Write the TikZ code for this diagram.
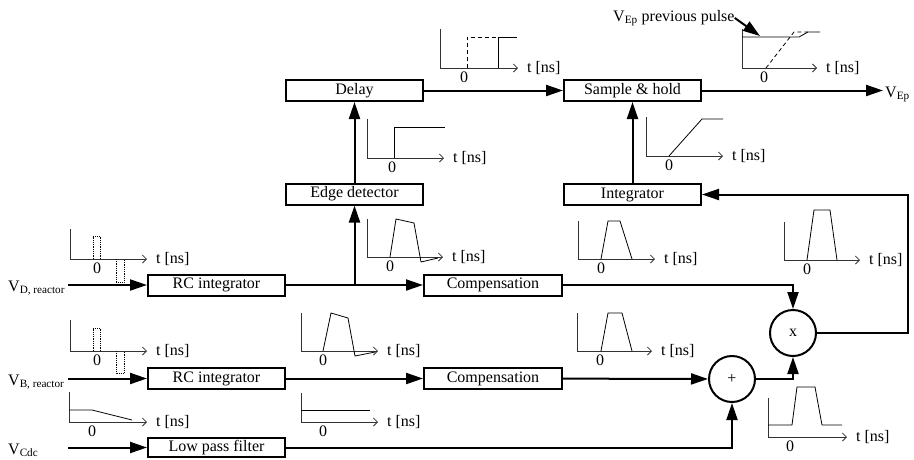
\documentclass[tikz,border=0pt]{standalone}
\usepackage{fontspec}
\setmainfont{Liberation Serif}
\usepackage{tikz}
\usetikzlibrary{arrows.meta, positioning, calc}
\definecolor{mydark}{RGB}{0,0,0}
\definecolor{mygray}{RGB}{50,50,50}
\newcommand{\bigfont}{\fontsize{16}{19}\selectfont}
\tikzset{
  block/.style={rectangle, draw=mydark, line width=2pt, minimum width=137pt,
    minimum height=21pt, inner sep=0pt, font=\bigfont},
  opnode/.style={circle, draw=mydark, line width=2pt, minimum size=46pt,
    inner sep=0pt, font=\bigfont},
  arrow/.style={-{Triangle[length=17pt,width=11pt]}, line width=2pt, color=mydark},
  axis/.style={line width=0.8pt, color=mygray, -{Straight Barb[length=4pt,width=8pt]}},
  sig/.style={line width=0.8pt, color=mydark},
  dotsig/.style={line width=0.8pt, color=mydark, densely dotted},
  dashsig/.style={line width=0.8pt, color=mydark, dash pattern=on 4pt off 3pt},
  zero/.style={anchor=north, inner sep=1pt, yshift=-3pt, font=\bigfont},
  tlab/.style={anchor=west, inner sep=1pt, xshift=8pt, font=\bigfont},
  vlab/.style={anchor=base west, inner sep=0pt, font=\bigfont}
}
\newcommand{\taxis}[6]{%
  \draw[axis] (#2,#3) -- (#2,#4) -- (#5,#4);
  \node[zero] (#1zero) at (#6,#4) {0};
  \node[tlab] (#1t) at (#5,#4) {t [ns]};
}

\begin{document}
\begin{tikzpicture}[x=1pt, y=-1pt]
  \useasboundingbox (0,0) rectangle (914,459);

  \node[block] (delay) at (354.5,90.5) {Delay};
  \node[block] (sh) at (632.5,90.5) {Sample \& hold};
  \node[block] (edge) at (354.5,194) {Edge detector};
  \node[block] (integ) at (632.5,194.5) {Integrator};
  \node[block] (rc1) at (216.5,285) {RC integrator};
  \node[block, minimum width=138pt] (comp1) at (493,285) {Compensation};
  \node[block] (rc2) at (216.5,378.5) {RC integrator};
  \node[block, minimum width=138pt] (comp2) at (493,378.5) {Compensation};
  \node[block, minimum height=19pt] (lpf) at (216.5,447.5) {Low pass filter};
  \node[opnode] (mult) at (793,333) {x};
  \node[opnode] (plus) at (732,379) {+};

  \node[vlab] (vd) at (8,291) {V\textsubscript{D, reactor}};
  \node[vlab] (vb) at (8,385) {V\textsubscript{B, reactor}};
  \node[vlab] (vc) at (8,454) {V\textsubscript{Cdc}};
  \coordinate (inD) at (68,285);
  \coordinate (inB) at (68,378.5);
  \coordinate (inC) at (68,447.5);
  \coordinate (j1) at (354.5,285);
  \coordinate (out) at (883,90.5);
  \coordinate (fb) at (908,333);
  \coordinate (pp) at (760,36);
  \node[vlab, anchor=base west] (vep) at (885,97) {V\textsubscript{Ep}};
  \node[vlab] (prev) at (613,21) {V\textsubscript{Ep} previous pulse};

  \draw[arrow] (inD) -- (rc1);
  \draw[arrow] (inB) -- (rc2);
  \draw[arrow] (inC) -- (lpf);
  \draw[arrow] (rc1) -- (comp1);
  \draw[arrow] (j1) -- (edge);
  \draw[arrow] (edge) -- (delay);
  \draw[arrow] (delay) -- (sh);
  \draw[arrow] (integ) -- (sh);
  \draw[arrow] (sh) -- (out);
  \draw[arrow] (rc2) -- (comp2);
  \draw[arrow] (comp2) -- (plus);
  \draw[arrow] (lpf) -| (plus);
  \draw[arrow] (plus) -| (mult);
  \draw[arrow] (comp1) -| (mult);
  \draw[arrow] (mult) -- (fb) |- (integ);
  \draw[arrow] (prev.east) -- (pp);

  \taxis{ga}{70}{229}{259}{147}{97}
  \draw[dotsig] (93,259) -- (93,236) -- (100,236) -- (100,259);
  \draw[dotsig] (116,259) -- (116,282) -- (124,282) -- (124,259);

  \taxis{gb}{70}{320}{351}{147}{97}
  \draw[dotsig] (93,351) -- (93,328) -- (100,328) -- (100,351);
  \draw[dotsig] (116,351) -- (116,373) -- (124,373) -- (124,351);

  \taxis{gc}{69}{392}{422}{147}{92}
  \draw[sig] (69,410) -- (92,410) -- (132,420);

  \taxis{gd}{301}{313}{351}{378}{323}
  \draw[sig] (323,351) -- (331,313) -- (348,318) -- (355,356) -- (375,352);

  \taxis{ge}{367}{219}{257}{443}{390}
  \draw[sig] (390,257) -- (396,219) -- (414,223) -- (421,262) -- (438,258);

  \taxis{gf}{367}{119}{158}{444}{392}
  \draw[sig] (394,158) -- (394,127) -- (445,127);

  \taxis{gg}{440}{29}{68}{518}{464}
  \draw[dashsig] (467,68) -- (467,37) -- (517,37);
  \draw[sig] (498,68) -- (498,37) -- (517,37);

  \taxis{gh}{301}{393}{422}{378}{323}
  \draw[sig] (301,410) -- (370,410);

  \taxis{gi}{646}{117}{156}{723}{669}
  \draw[sig] (669,156) -- (702,119) -- (723,119);

  \taxis{gj}{578}{221}{259}{655}{601}
  \draw[sig] (601,259) -- (608,221) -- (620,221) -- (632,259);

  \taxis{gk}{577}{313}{351}{652}{600}
  \draw[sig] (601,351) -- (608,313) -- (622,313) -- (632,351);

  \taxis{gl}{784}{222}{260}{860}{807}
  \draw[sig] (807,260) -- (814,210) -- (830,210) -- (837,260);

  \taxis{gm}{768}{398}{437}{847}{790}
  \draw[sig] (768,425) -- (792,425) -- (797,387) -- (815,387) -- (822,425) -- (842,425);

  \taxis{gn}{742}{29}{68}{817}{764}
  \draw[sig] (742,37) -- (799,37) -- (808,32) -- (820,32);
  \draw[dashsig] (766,68) -- (794,32) -- (808,32);
\end{tikzpicture}
\end{document}
